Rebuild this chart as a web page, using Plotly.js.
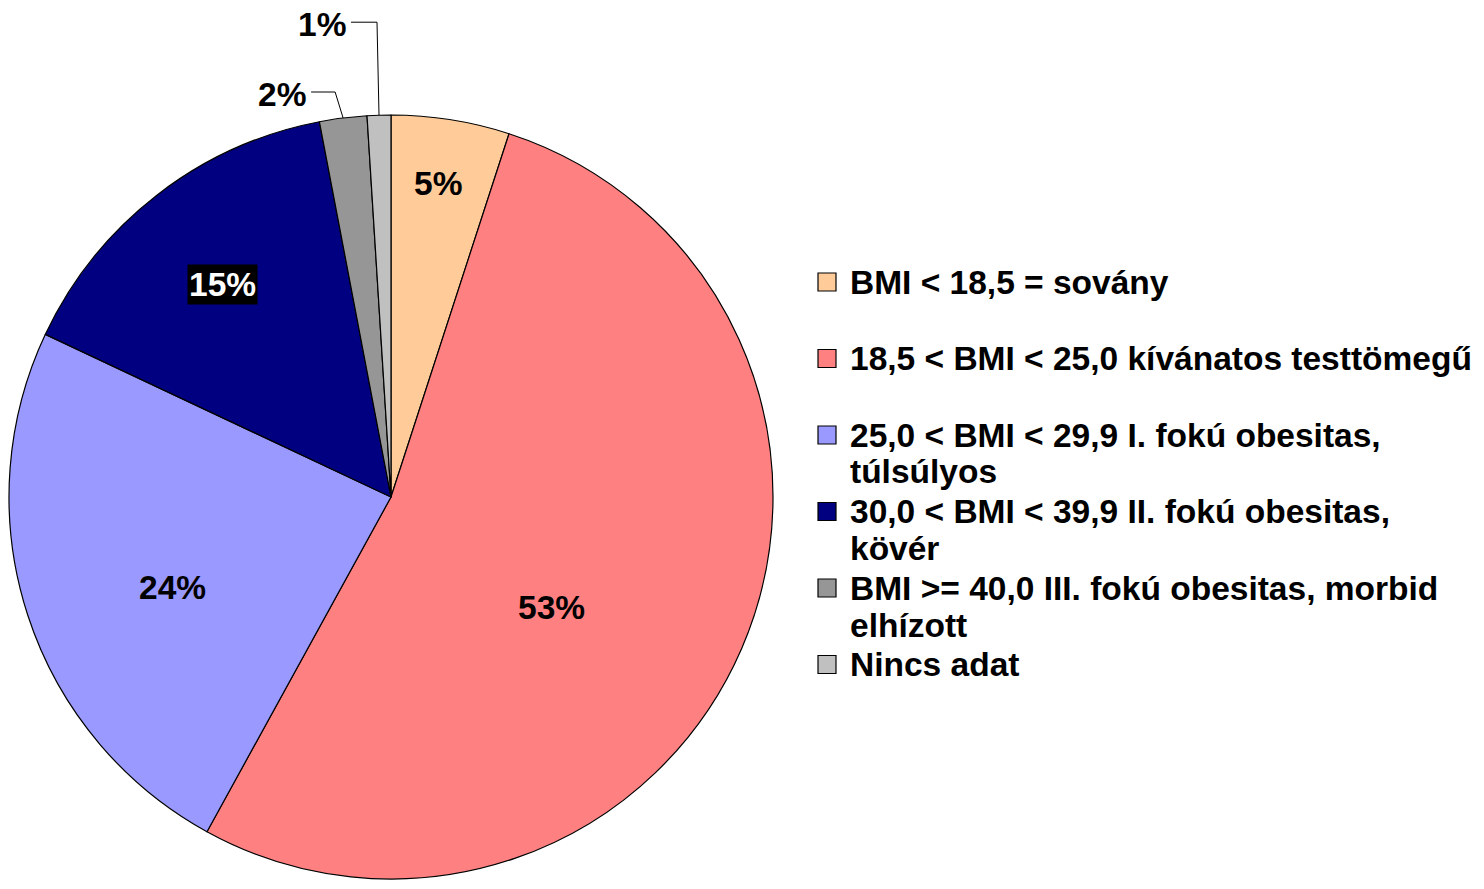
<!DOCTYPE html>
<html>
<head>
<meta charset="utf-8">
<script src="https://cdn.plot.ly/plotly-3.0.1.min.js"></script>
<style>
  html, body { margin: 0; padding: 0; background: #fff; overflow: hidden; }
  #chart { width: 1484px; height: 889px; }
</style>
</head>
<body>
<div id="chart"></div>
<script>
// BMI categories (slice order, clockwise from 12 o'clock)
const categories = [
  "BMI < 18,5 = sovány",
  "18,5 < BMI < 25,0 kívánatos testtömegű",
  "25,0 < BMI < 29,9 I. fokú obesitas, túlsúlyos",
  "30,0 < BMI < 39,9 II. fokú obesitas, kövér",
  "BMI >= 40,0 III. fokú obesitas, morbid elhízott",
  "Nincs adat"
];

// Legend wording, broken into the lines it is set on
const legendLines = [
  ["BMI < 18,5 = sovány"],
  ["18,5 < BMI < 25,0 kívánatos testtömegű"],
  ["25,0 < BMI < 29,9 I. fokú obesitas,", "túlsúlyos"],
  ["30,0 < BMI < 39,9 II. fokú obesitas,", "kövér"],
  ["BMI >= 40,0 III. fokú obesitas, morbid", "elhízott"],
  ["Nincs adat"]
];

// Share of each category, percent
const shares = [5, 53, 24, 15, 2, 1];

// Slice fills
const colors = ["#FFCC99", "#FF8080", "#9999FF", "#000080", "#969696", "#C0C0C0"];

// ---------------------------------------------------------------------------
// Layout geometry (pixels) and styling
const W = 1484, H = 889;
const FONT = "Liberation Sans, Arial, Helvetica, sans-serif";
const FONT_SIZE = 33.5;
const pieBox = { left: 9, right: 773, top: 115, bottom: 879 };
const cx = (pieBox.left + pieBox.right) / 2;
const cy = (pieBox.top + pieBox.bottom) / 2;
const R = (pieBox.right - pieBox.left) / 2;

// How each slice's percentage is shown: inside (plain), boxed (white on black)
// or outside with an elbow leader line.
const labelMode = ["inside", "inside", "inside", "boxed", "leader", "leader"];
// Inside labels: radius as a fraction of R, and a turn (deg) from the slice bisector
const insidePlacement = {
  0: { r: 0.83, turn: -0.5 },
  1: { r: 0.51, turn: 11 },
  2: { r: 0.62, turn: -4.5 },
  3: { r: 0.71, turn: -0.5 }
};
const leaderStyle = {
  4: { rise: 26, knee: -8, run: 24 },
  5: { rise: 93, knee: -2, run: 26 }
};

const legendStyle = { swatchLeft: 818, swatchSize: 18, textLeft: 848, top: 282, pitch: 76.5, lineGap: 37 };

// ---------------------------------------------------------------------------
const px2paper = (px, py) => [px / W, 1 - py / H];
const esc = s => s.replace(/&/g, "&amp;").replace(/</g, "&lt;").replace(/>/g, "&gt;");
const total = shares.reduce((a, b) => a + b, 0);
const pctText = v => Math.round(v / total * 100) + "%";

// Mid-angle of each slice in degrees, clockwise from 12 o'clock
let acc = 0;
const midAngles = shares.map(v => { const a = (acc + v / 2) / total * 360; acc += v; return a; });
const polar = (deg, r) => {
  const t = deg * Math.PI / 180;
  return [cx + r * Math.sin(t), cy - r * Math.cos(t)];
};

const baseFont = { family: FONT, size: FONT_SIZE, weight: "bold", color: "#000" };

const annotations = [];
const shapes = [];

// Percent labels
shares.forEach((v, i) => {
  const mode = labelMode[i];
  if (mode === "inside" || mode === "boxed") {
    const pl = insidePlacement[i];
    const [px, py] = polar(midAngles[i] + pl.turn, R * pl.r);
    const [x, y] = px2paper(px, py);
    const ann = {
      x, y, xref: "paper", yref: "paper", xanchor: "center", yanchor: "middle",
      text: pctText(v), showarrow: false, font: baseFont
    };
    if (mode === "boxed") {
      ann.font = Object.assign({}, baseFont, { color: "#fff" });
      ann.bgcolor = "#000";
      ann.borderpad = 1;
    }
    annotations.push(ann);
  } else if (mode === "leader") {
    const st = leaderStyle[i];
    const [ex, ey] = polar(midAngles[i], R);
    const kx = ex + st.knee, ky = ey - st.rise;
    const lx = kx - st.run;
    const p0 = px2paper(ex, ey), p1 = px2paper(kx, ky), p2 = px2paper(lx, ky);
    shapes.push({
      type: "path", xref: "paper", yref: "paper",
      path: `M ${p0[0]} ${p0[1]} L ${p1[0]} ${p1[1]} L ${p2[0]} ${p2[1]}`,
      line: { color: "#000", width: 1 }
    });
    const [tx, ty] = px2paper(lx - 3, ky + 2);
    annotations.push({
      x: tx, y: ty, xref: "paper", yref: "paper", xanchor: "right", yanchor: "middle",
      text: pctText(v), showarrow: false, font: baseFont
    });
  }
});

// Legend: swatches and text lines
legendLines.forEach((lines, i) => {
  const yc = legendStyle.top + i * legendStyle.pitch;
  const s = legendStyle.swatchSize;
  const a = px2paper(legendStyle.swatchLeft, yc - s / 2);
  const b = px2paper(legendStyle.swatchLeft + s, yc + s / 2);
  shapes.push({
    type: "rect", xref: "paper", yref: "paper",
    x0: a[0], x1: b[0], y0: b[1], y1: a[1],
    fillcolor: colors[i], line: { color: "#000", width: 1.2 }
  });
  lines.forEach((ln, j) => {
    const [x, y] = px2paper(legendStyle.textLeft, yc + j * legendStyle.lineGap);
    annotations.push({
      x, y, xref: "paper", yref: "paper", xanchor: "left", yanchor: "middle",
      text: esc(ln), showarrow: false, font: baseFont
    });
  });
});

const trace = {
  type: "pie",
  labels: categories,
  values: shares,
  sort: false,
  direction: "clockwise",
  rotation: 0,
  marker: { colors: colors, line: { color: "#000", width: 1.2 } },
  textinfo: "none",
  domain: {
    x: [pieBox.left / W, pieBox.right / W],
    y: [1 - pieBox.bottom / H, 1 - pieBox.top / H]
  },
  hoverinfo: "label+percent",
  showlegend: false
};

const layout = {
  width: W, height: H,
  margin: { l: 0, r: 0, t: 0, b: 0, pad: 0 },
  paper_bgcolor: "#fff",
  plot_bgcolor: "#fff",
  showlegend: false,
  annotations, shapes
};

Plotly.newPlot("chart", [trace], layout, { displayModeBar: false, staticPlot: true });
</script>
</body>
</html>
